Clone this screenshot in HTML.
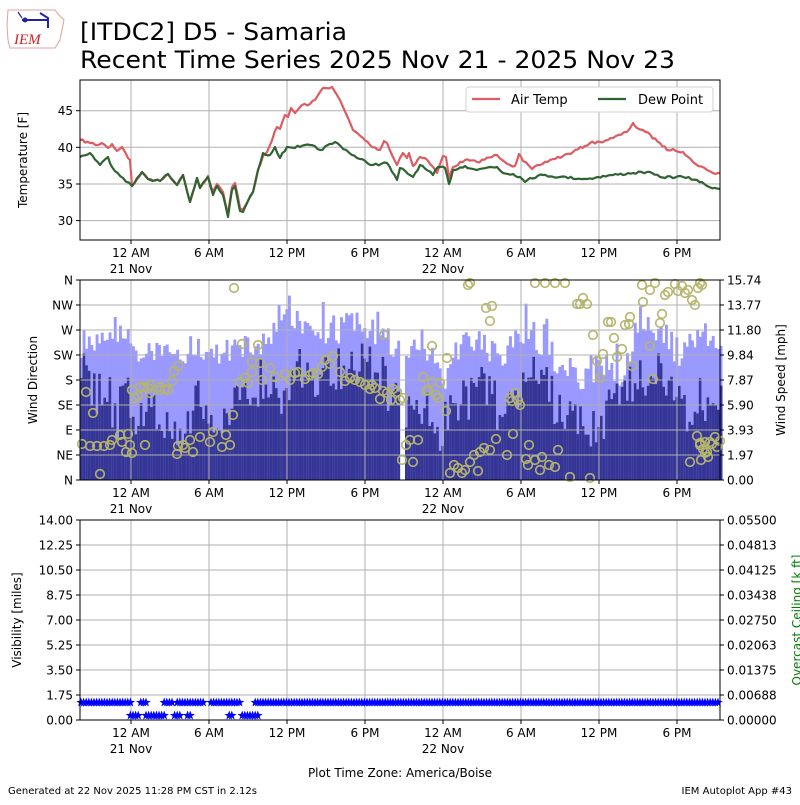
<!DOCTYPE html>
<html><head><meta charset="utf-8"><style>
html,body{margin:0;padding:0;background:#fff;}
svg text{font-family:"DejaVu Sans","Liberation Sans",sans-serif;}
</style></head><body>
<svg id="s" width="800" height="800" xmlns="http://www.w3.org/2000/svg">
<rect width="800" height="800" fill="#fff"/>
<g>
<path d="M8,10 L55,10 L58,14 L64,20 L62,30 L60,40 L55,48 L10,48 L8,40 L7,25 Z" fill="none" stroke="#e0a0a0" stroke-width="1"/>
<line x1="22" y1="20" x2="48" y2="20" stroke="#2222aa" stroke-width="2"/>
<circle cx="25" cy="20" r="2.5" fill="#2222aa"/>
<path d="M18,12 L22,18" stroke="#2222aa" stroke-width="1.2"/>
<path d="M40,13 L48,18 L48,28" stroke="#2222aa" stroke-width="2" fill="none"/>
<text x="14" y="44" font-size="15" fill="#cc2222" font-style="italic" style="font-family:'Liberation Serif',serif">IEM</text>
</g>
<text x="80" y="40" font-size="24" textLength="267" lengthAdjust="spacingAndGlyphs">[ITDC2] D5 - Samaria</text>
<text x="80" y="68" font-size="24" textLength="595" lengthAdjust="spacingAndGlyphs">Recent Time Series 2025 Nov 21 - 2025 Nov 23</text>
<g id="g"></g>
<text x="8" y="794" font-size="10">Generated at 22 Nov 2025 11:28 PM CST in 2.12s</text>
<text x="792" y="794" font-size="10" text-anchor="end">IEM Autoplot App #43</text>
</svg>
<script>
var NS="http://www.w3.org/2000/svg",G=document.getElementById('g');
function el(t,a,txt){var e=document.createElementNS(NS,t);for(var k in a)e.setAttribute(k,a[k]);if(txt!==undefined)e.textContent=txt;G.appendChild(e);return e;}
var seed=7;function rnd(){seed=(seed*16807)%2147483647;return seed/2147483647;}
function interp(pts,x){for(var i=0;i<pts.length-1;i++){if(x<=pts[i+1][0]){var a=pts[i],b=pts[i+1];return a[1]+(b[1]-a[1])*(x-a[0])/(b[0]-a[0]);}}return pts[pts.length-1][1];}
var xt=[131,209,287,365,443,521,599,677],xl=["12 AM","6 AM","12 PM","6 PM","12 AM","6 AM","12 PM","6 PM"];
function grid(y0,y1,hs){xt.forEach(function(x){el('line',{x1:x,x2:x,y1:y0,y2:y1,stroke:'#b0b0b0','stroke-width':1});});
hs.forEach(function(y){el('line',{x1:80,x2:720,y1:y,y2:y,stroke:'#b0b0b0','stroke-width':1});});}
function xticks(y){xt.forEach(function(x,i){el('line',{x1:x,x2:x,y1:y,y2:y+4,stroke:'#000'});el('text',{x:x,y:y+17,'font-size':12,'text-anchor':'middle'},xl[i]);});
el('text',{x:131,y:y+33,'font-size':12,'text-anchor':'middle'},'21 Nov');el('text',{x:443,y:y+33,'font-size':12,'text-anchor':'middle'},'22 Nov');}
function ltick(y,t,x){x=x||80;el('line',{x1:x-4,x2:x,y1:y,y2:y,stroke:'#000'});el('text',{x:x-7,y:y+4.5,'font-size':12,'text-anchor':'end'},t);}
function rtick(y,t){el('line',{x1:720,x2:724,y1:y,y2:y,stroke:'#000'});el('text',{x:727,y:y+4.5,'font-size':12},t);}
grid(80,240,[110.7,147.3,184,220.6]);
var dew=[[80,157],[90,153],[100,165],[108,157],[112,167],[123,178],[132,186],[142,172],[148,179],[160,181],[168,174],[177,185],[183,175],[190,202],[197,178],[200,188],[208,177],[213,195],[217,186],[223,195],[228,217],[232,190],[235,186],[240,211],[243,212],[247,203],[253,192],[258,170],[263,153],[270,155],[275,147],[280,158],[287,147],[300,147],[310,145],[320,150],[335,142],[357,158],[373,165],[387,163],[397,180],[400,168],[413,177],[420,165],[433,175],[438,167],[445,168],[449,184],[453,170],[465,166],[477,170],[490,167],[497,167],[503,173],[513,174],[520,177],[525,182],[530,178],[543,175],[560,177],[587,179],[598,177],[613,175],[633,173],[647,172],[660,177],[683,177],[697,180],[707,186],[720,189]];
var air=[[80,140],[90,143],[98,145],[102,143],[108,148],[112,144],[117,151],[122,147],[125,152],[128,158],[130,160],[132,186],[142,172],[148,179],[160,181],[168,174],[177,185],[183,175],[190,202],[197,178],[200,188],[208,176],[213,192],[217,184],[223,192],[228,214],[232,187],[235,183],[240,208],[243,210],[247,203],[253,192],[258,170],[263,156],[267,152],[277,127],[280,129],[285,115],[288,117],[291,108],[295,113],[302,105],[310,104],[315,100],[323,88],[332,87],[337,95],[343,107],[353,130],[363,138],[370,145],[380,150],[384,141],[387,143],[392,155],[397,165],[400,158],[403,153],[407,158],[409,153],[413,166],[420,157],[425,158],[433,167],[437,173],[443,156],[446,157],[449,178],[453,167],[465,160],[477,162],[497,155],[510,165],[515,166],[519,154],[523,161],[532,169],[540,165],[550,160],[563,156],[573,152],[590,143],[600,142],[613,138],[627,132],[633,123],[637,128],[643,130],[660,143],[667,150],[673,149],[683,152],[693,162],[707,170],[713,173],[720,173]];
function jag(p){var o=[];for(var i=0;i<p.length-1;i++){var a=p[i],b=p[i+1];var n=Math.max(1,Math.round((b[0]-a[0])/2.6));for(var k=0;k<n;k++){var t=k/n;o.push([a[0]+(b[0]-a[0])*t,a[1]+(b[1]-a[1])*t+(k?(rnd()-0.5)*2.5:0)]);}}o.push(p[p.length-1]);return o;}
function pl(p,c){el('polyline',{points:p.map(function(q){return q[0].toFixed(1)+','+q[1].toFixed(1)}).join(' '),fill:'none',stroke:c,'stroke-width':2.2,'stroke-linejoin':'round'});}
pl(jag(air),'#dd5c63');pl(jag(dew),'#2f6331');
el('rect',{x:80,y:80,width:640,height:160,fill:'none',stroke:'#000','stroke-width':1});
[[110.7,'45'],[147.3,'40'],[184,'35'],[220.6,'30']].forEach(function(a){ltick(a[0],a[1]);});
el('text',{transform:'translate(27,160) rotate(-90)','font-size':12,'text-anchor':'middle'},'Temperature [F]');
xticks(240);
el('rect',{x:466,y:87,width:247,height:25,fill:'#fff',stroke:'#d0d0d0',rx:3});
el('line',{x1:472,x2:500,y1:99,y2:99,stroke:'#dd5c63','stroke-width':2.2});
el('text',{x:511,y:104,'font-size':13},'Air Temp');
el('line',{x1:598,x2:626,y1:99,y2:99,stroke:'#2f6331','stroke-width':2.2});
el('text',{x:638,y:104,'font-size':13},'Dew Point');
var dk=[[80,368],[95,400],[105,380],[115,420],[125,395],[140,420],[160,410],[180,430],[200,400],[220,430],[240,400],[260,380],[280,390],[300,370],[320,380],[340,365],[360,360],[380,375],[400,420],[420,400],[440,430],[460,400],[480,390],[500,410],[520,380],[540,375],[560,420],[580,430],[600,420],[620,390],[640,380],[660,370],[680,410],[700,400],[720,390]];
var lt=[[80,350],[110,325],[130,345],[150,355],[170,362],[190,345],[210,352],[230,350],[250,345],[270,335],[285,305],[300,325],[320,335],[340,330],[360,320],[380,335],[400,355],[420,335],[440,385],[460,345],[480,345],[500,355],[520,335],[540,345],[560,365],[580,380],[600,365],[620,375],[640,315],[660,335],[680,355],[700,335],[720,345]];
var bw=2.6;
for(var x=80;x<720;x+=bw){var l=interp(lt,x)+(rnd()-0.5)*28,d=interp(dk,x)+(rnd()-0.5)*50;
if(rnd()<0.05)l-=20;if(d<l+5)d=l+5;if(d>478)d=478;if(l<282)l=282;
if(x>399&&x<403)continue;
el('rect',{x:x.toFixed(1),y:l.toFixed(1),width:bw+0.3,height:(480-l).toFixed(1),fill:'#9999ff'});
el('rect',{x:x.toFixed(1),y:d.toFixed(1),width:bw+0.3,height:(480-d).toFixed(1),fill:'#363696'});}
var hs=[];for(var i=1;i<8;i++)hs.push(280+i*25);grid(280,480,hs);
var circ=[[86,392],[93,413],[82,444],[90,446],[97,446],[104,446],[110,445],[112,440],[120,435],[122,442],[128,434],[130,445],[126,452],[100,474],[132,453],[145,445],[144,387],[132,390],[135,398],[138,396],[148,388],[150,393],[150,385],[160,387],[160,390],[165,389],[168,390],[172,381],[178,366],[174,371],[140,387],[178,446],[183,445],[190,440],[185,448],[193,452],[177,454],[200,437],[210,442],[213,432],[222,447],[230,445],[233,415],[226,435],[240,382],[245,378],[252,372],[248,383],[262,380],[260,363],[258,345],[252,362],[234,288],[242,344],[270,368],[275,377],[285,374],[290,380],[295,373],[298,372],[305,379],[310,375],[313,373],[318,374],[322,367],[330,364],[333,356],[325,360],[340,372],[345,381],[350,378],[355,380],[360,382],[365,385],[370,389],[372,385],[375,388],[380,399],[383,391],[387,393],[384,335],[391,400],[393,389],[397,392],[400,400],[403,398],[402,460],[406,445],[410,440],[413,462],[418,440],[423,377],[426,391],[428,390],[432,382],[440,383],[436,395],[438,398],[432,346],[447,358],[446,411],[454,465],[450,473],[458,468],[465,470],[462,473],[470,462],[474,455],[478,471],[480,452],[484,448],[490,450],[496,439],[507,455],[513,434],[510,398],[512,401],[515,393],[518,400],[520,405],[529,445],[526,459],[528,465],[535,460],[540,470],[542,457],[549,465],[555,467],[558,450],[570,477],[590,478],[486,308],[492,306],[490,321],[468,285],[470,283],[535,283],[545,283],[555,283],[565,283],[577,304],[580,304],[583,298],[587,304],[593,335],[597,361],[600,378],[603,354],[608,322],[611,322],[614,338],[617,357],[622,349],[625,325],[629,324],[630,317],[632,366],[643,302],[650,346],[653,379],[660,323],[662,314],[665,295],[668,292],[675,284],[678,291],[682,286],[685,293],[688,290],[692,300],[698,288],[700,283],[695,305],[702,285],[655,283],[642,285],[650,290],[697,436],[700,443],[703,449],[705,453],[707,452],[708,457],[710,442],[712,444],[715,437],[720,441],[717,447],[705,442],[700,445],[701,460],[690,462]];
var cg=el('g',{});
circ.forEach(function(c){var e=document.createElementNS(NS,'circle');e.setAttribute('cx',c[0]);e.setAttribute('cy',c[1]);e.setAttribute('r',4.3);e.setAttribute('fill','none');e.setAttribute('stroke','#b5b56c');e.setAttribute('stroke-width',1.6);cg.appendChild(e);});
el('rect',{x:80,y:280,width:640,height:200,fill:'none',stroke:'#000'});
var dl=['N','NE','E','SE','S','SW','W','NW','N'],sl=['0.00','1.97','3.93','5.90','7.87','9.84','11.80','13.77','15.74'];
for(i=0;i<9;i++){ltick(480-i*25,dl[i]);rtick(480-i*25,sl[i]);}
el('text',{transform:'translate(37,380) rotate(-90)','font-size':12,'text-anchor':'middle'},'Wind Direction');
el('text',{transform:'translate(785,380) rotate(-90)','font-size':12,'text-anchor':'middle'},'Wind Speed [mph]');
xticks(480);
grid(520,720,hs.map(function(y){return y+240;}));
function star(x,y){var p=[];for(var k=0;k<10;k++){var r=k%2?2:5,a=-Math.PI/2+k*Math.PI/5;p.push((x+r*Math.cos(a)).toFixed(1)+','+(y+r*Math.sin(a)).toFixed(1));}el('polygon',{points:p.join(' '),fill:'#0000ff'});}
function up(x){if(x<132)return true;if(x<138)return false;if(x<150)return x>140&&x<146;if(x<162)return false;if(x<240)return !(x>172&&x<176)&&!(x>205&&x<209);if(x<255)return false;return true;}
function lo(x){return (x>128&&x<140)||(x>145&&x<165)||(x>172&&x<181)||(x>186&&x<192)||(x>227&&x<233)||(x>242&&x<259);}
for(x=81;x<720;x+=2.6){if(up(x))star(x,702.5);if(lo(x))star(x,715.5);}
el('rect',{x:80,y:520,width:640,height:200,fill:'none',stroke:'#000'});
var vl=['0.00','1.75','3.50','5.25','7.00','8.75','10.50','12.25','14.00'],cl=['0.00000','0.00688','0.01375','0.02063','0.02750','0.03438','0.04125','0.04813','0.05500'];
for(i=0;i<9;i++){ltick(720-i*25,vl[i]);rtick(720-i*25,cl[i]);}
el('text',{transform:'translate(21,620) rotate(-90)','font-size':12,'text-anchor':'middle'},'Visibility [miles]');
el('text',{transform:'translate(801,620) rotate(-90)','font-size':12,'text-anchor':'middle',fill:'#008000'},'Overcast Ceiling [k ft]');
xticks(720);
el('text',{x:400,y:777,'font-size':12,'text-anchor':'middle'},'Plot Time Zone: America/Boise');
</script>
</body></html>
